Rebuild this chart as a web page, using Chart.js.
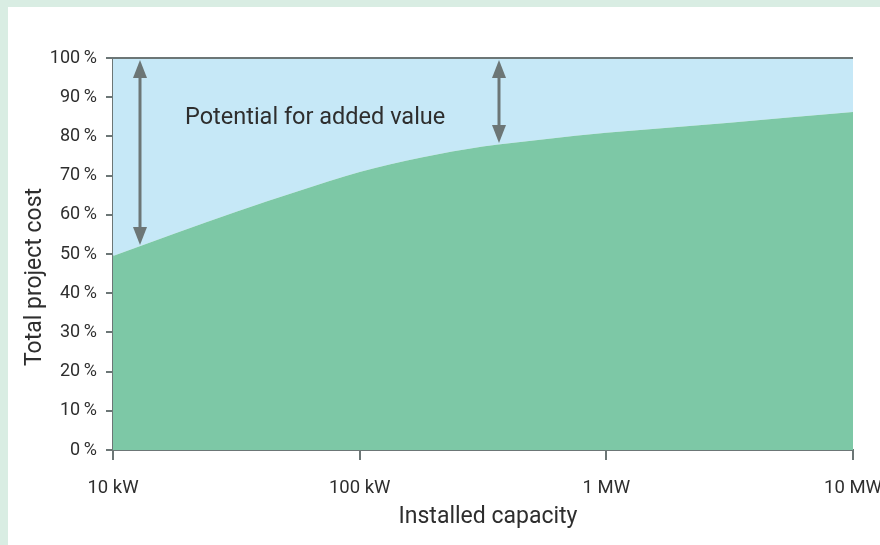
<!DOCTYPE html>
<html>
<head>
<meta charset="utf-8">
<script src="https://cdn.jsdelivr.net/npm/chart.js@4"></script>
<style>
    body { margin: 0; background: #d9ede3; width: 880px; height: 545px; overflow: hidden; }
    #panel { position: absolute; left: 8px; top: 7px; width: 872px; height: 538px; background: #ffffff; }
    #costChart { display: block; }
</style>
</head>
<body>
<div id="panel"><canvas id="costChart" width="872" height="538"></canvas></div>
<script>
// ============================================
// DATOS
// ============================================

const capacityKW = [10, 17.8, 31.6, 56.2, 100, 178, 316, 562, 1000, 3162, 10000];
const costShare = [49.5, 55.2, 60.8, 66.0, 70.9, 74.6, 77.4, 79.3, 80.9, 83.5, 86.2];
const totalShare = [100, 100, 100, 100, 100, 100, 100, 100, 100, 100, 100];

const xTickValues = [10, 100, 1000, 10000];
const xTickLabels = ['10 kW', '100 kW', '1 MW', '10 MW'];
const yTickValues = [0, 10, 20, 30, 40, 50, 60, 70, 80, 90, 100];

// flechas de "valor añadido" (capacidad, extremo superior, extremo inferior)
const arrowCapacity = [12.9, 367];
const arrowTop = [99.5, 99.5];
const arrowBottom = [52.3, 78.3];

const annotationText = 'Potential for added value';
const xTitle = 'Installed capacity';
const yTitle = 'Total project cost';

const AXIS_GRAY = '#6c7676';
const TEXT_COLOR = '#2e2e2e';
const FONT = 'Roboto, "DejaVu Sans", sans-serif';

// ============================================
// PLUGIN: flechas, línea superior y títulos
// ============================================

const decorPlugin = {
    id: 'decor',
    afterDatasetsDraw(chart) {
        const { ctx, chartArea, scales } = chart;
        const x = scales.x, y = scales.y;

        // línea superior del área
        ctx.save();
        ctx.strokeStyle = AXIS_GRAY;
        ctx.lineWidth = 2;
        ctx.beginPath();
        ctx.moveTo(chartArea.left, chartArea.top);
        ctx.lineTo(chartArea.right, chartArea.top);
        ctx.stroke();

        // flechas dobles
        arrowCapacity.forEach((cap, i) => {
            const px = Math.round(x.getPixelForValue(cap));
            const yTop = y.getPixelForValue(arrowTop[i]);
            const yBot = y.getPixelForValue(arrowBottom[i]);
            const headH = 18, headW = 7;
            ctx.strokeStyle = AXIS_GRAY;
            ctx.fillStyle = AXIS_GRAY;
            ctx.lineWidth = 3;
            ctx.beginPath();
            ctx.moveTo(px, yTop + headH - 2);
            ctx.lineTo(px, yBot - headH + 2);
            ctx.stroke();
            ctx.beginPath();
            ctx.moveTo(px, yTop);
            ctx.lineTo(px - headW, yTop + headH);
            ctx.lineTo(px + headW, yTop + headH);
            ctx.closePath();
            ctx.fill();
            ctx.beginPath();
            ctx.moveTo(px, yBot);
            ctx.lineTo(px - headW, yBot - headH);
            ctx.lineTo(px + headW, yBot - headH);
            ctx.closePath();
            ctx.fill();
        });

        // texto de anotación
        ctx.fillStyle = TEXT_COLOR;
        ctx.font = '23.5px ' + FONT;
        ctx.textAlign = 'left';
        ctx.textBaseline = 'middle';
        ctx.fillText(annotationText, chartArea.left + 72, chartArea.top + 60);

        // títulos de ejes
        ctx.font = '23px ' + FONT;
        ctx.textAlign = 'center';
        ctx.fillText(xTitle, (chartArea.left + chartArea.right) / 2 + 5, chartArea.bottom + 67);
        ctx.translate(27, (chartArea.top + chartArea.bottom) / 2 + 23);
        ctx.rotate(-Math.PI / 2);
        ctx.fillText(yTitle, 0, 0);
        ctx.restore();
    }
};

// ============================================
// GRÁFICO
// ============================================

function createCostChart() {
    const ctx = document.getElementById('costChart').getContext('2d');
    return new Chart(ctx, {
        type: 'line',
        data: {
            labels: capacityKW,
            datasets: [
                {
                    label: 'Cost share',
                    data: capacityKW.map((c, i) => ({ x: c, y: costShare[i] })),
                    borderWidth: 0,
                    borderColor: 'rgba(0,0,0,0)',
                    backgroundColor: '#7dc8a6',
                    pointRadius: 0,
                    cubicInterpolationMode: 'monotone',
                    fill: 'origin'
                },
                {
                    label: 'Total',
                    data: capacityKW.map((c, i) => ({ x: c, y: totalShare[i] })),
                    borderWidth: 0,
                    borderColor: 'rgba(0,0,0,0)',
                    backgroundColor: '#c6e8f7',
                    pointRadius: 0,
                    fill: '-1'
                }
            ]
        },
        options: {
            responsive: false,
            animation: false,
            layout: { padding: { top: 51, right: 27, left: 0, bottom: 0 } },
            plugins: {
                legend: { display: false },
                tooltip: { enabled: false }
            },
            scales: {
                x: {
                    type: 'logarithmic',
                    min: 10,
                    max: 10000,
                    afterBuildTicks: (scale) => {
                        scale.ticks = xTickValues.map(v => ({ value: v }));
                    },
                    afterFit: (scale) => {
                        scale.height = 95;
                        scale.paddingLeft = 0;
                        scale.paddingRight = 0;
                    },
                    grid: {
                        drawOnChartArea: false,
                        tickLength: 10,
                        color: AXIS_GRAY,
                        lineWidth: 2
                    },
                    border: { display: true, color: AXIS_GRAY, width: 2 },
                    ticks: {
                        autoSkip: false,
                        maxRotation: 0,
                        padding: 17,
                        color: TEXT_COLOR,
                        font: { family: FONT, size: 18.5 },
                        callback: (v) => {
                            const i = xTickValues.indexOf(v);
                            return i >= 0 ? xTickLabels[i] : '';
                        }
                    }
                },
                y: {
                    min: 0,
                    max: 100,
                    afterBuildTicks: (scale) => {
                        scale.ticks = yTickValues.map(v => ({ value: v }));
                    },
                    afterFit: (scale) => {
                        scale.width = 105;
                        scale.paddingTop = 0;
                        scale.paddingBottom = 0;
                    },
                    grid: {
                        drawOnChartArea: false,
                        tickLength: 7,
                        color: AXIS_GRAY,
                        lineWidth: 2
                    },
                    border: { display: true, color: AXIS_GRAY, width: 2 },
                    ticks: {
                        padding: 9,
                        color: TEXT_COLOR,
                        font: { family: FONT, size: 18 },
                        callback: (v) => v + '\u2009%'
                    }
                }
            }
        },
        plugins: [decorPlugin]
    });
}

createCostChart();
</script>
</body>
</html>
